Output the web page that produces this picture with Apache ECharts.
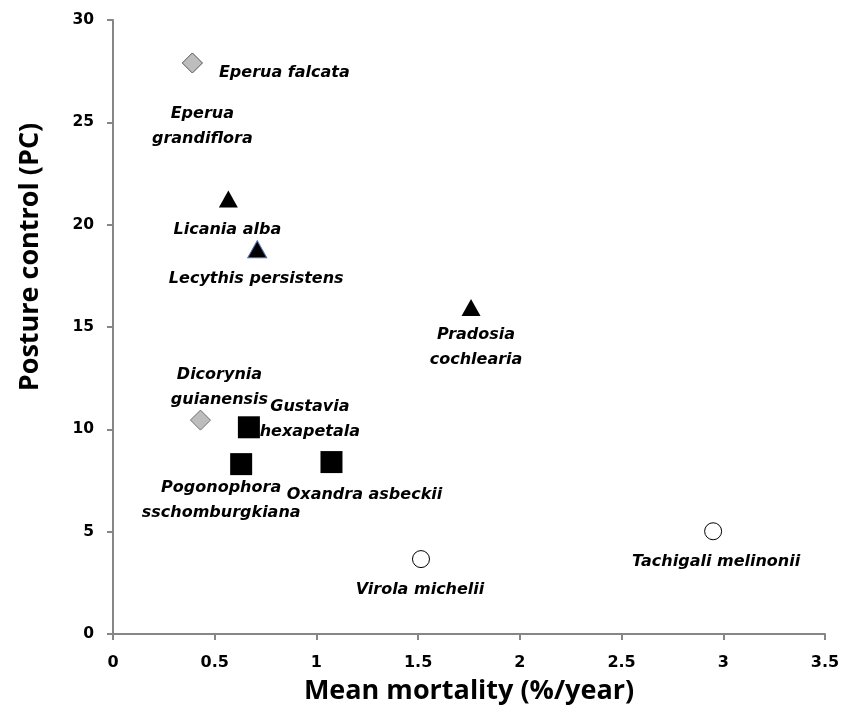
<!DOCTYPE html>
<html>
<head>
<meta charset="utf-8">
<script src="https://cdn.jsdelivr.net/npm/echarts@6/dist/echarts.min.js"></script>
<style>html,body{margin:0;padding:0;background:#fff}#c{width:850px;height:715px}</style>
</head>
<body>
<div id="c"></div>
<script>
// ---- data ----
const diamondNames = ['Eperua falcata', 'Eperua\ngrandiflora', 'Dicorynia\nguianensis'];
const diamondX = [0.39, 0.39, 0.43];
const diamondY = [27.9, 27.9, 10.45];

const triangleNames = ['Licania alba', 'Lecythis persistens', 'Pradosia\ncochlearia'];
const triangleX = [0.567, 0.709, 1.76];
const triangleY = [21.25, 18.8, 15.95];

const squareNames = ['Gustavia\nhexapetala', 'Pogonophora\nsschomburgkiana', 'Oxandra asbeckii'];
const squareX = [0.668, 0.63, 1.074];
const squareY = [10.1, 8.3, 8.4];

const circleNames = ['Virola michelii', 'Tachigali melinonii'];
const circleX = [1.514, 2.95];
const circleY = [3.66, 5.02];

const xTicks = [0, 0.5, 1, 1.5, 2, 2.5, 3, 3.5];
const yTicks = [0, 5, 10, 15, 20, 25, 30];

// ---- label placement (style) ----
const labelOffset = {
  'Eperua falcata': [92, 10],
  'Eperua\ngrandiflora': [10, 63],
  'Dicorynia\nguianensis': [19, -33],
  'Licania alba': [-1, 31],
  'Lecythis persistens': [-1, 30],
  'Pradosia\ncochlearia': [5, 40],
  'Gustavia\nhexapetala': [61, -8],
  'Pogonophora\nsschomburgkiana': [-20, 36],
  'Oxandra asbeckii': [33, 33],
  'Virola michelii': [-1, 31],
  'Tachigali melinonii': [3, 31]
};

const LABEL_FONT = 'DejaVu Sans';
const TITLE_FONT = 'Open Sans';
function pts(names, xs, ys) {
  return names.map((n, i) => ({
    name: n,
    value: [xs[i], ys[i]],
    label: { offset: labelOffset[n] }
  }));
}
const baseLabel = {
  show: true,
  position: 'inside',
  formatter: p => p.name,
  color: '#000',
  fontFamily: LABEL_FONT,
  fontStyle: 'italic',
  fontWeight: 'bold',
  fontSize: 16,
  lineHeight: 25,
  align: 'center',
  verticalAlign: 'middle'
};

const chart = echarts.init(document.getElementById('c'), null, { renderer: 'canvas' });
const axisLineStyle = { color: '#868686', width: 2 };
chart.setOption({
  animation: false,
  backgroundColor: '#fff',
  grid: { left: 113, right: 25, top: 20, bottom: 81, containLabel: false },
  xAxis: {
    type: 'value', min: 0, max: 3.5, interval: 0.5,
    name: 'Mean mortality (%/year)', nameLocation: 'middle', nameGap: 44,
    nameTextStyle: { fontFamily: TITLE_FONT, fontWeight: 'bold', fontSize: 27, color: '#000' },
    axisLine: { show: true, lineStyle: axisLineStyle },
    axisTick: { show: true, length: 6, lineStyle: axisLineStyle },
    splitLine: { show: false },
    axisLabel: { fontFamily: LABEL_FONT, fontWeight: 'bold', fontSize: 16, color: '#000', margin: 21,
      formatter: v => xTicks.includes(v) ? String(v) : '' }
  },
  yAxis: {
    type: 'value', min: 0, max: 30, interval: 5,
    name: 'Posture control (PC)', nameLocation: 'middle', nameGap: 69, nameRotate: 90,
    nameTextStyle: { fontFamily: TITLE_FONT, fontWeight: 'bold', fontSize: 27, color: '#000',
      padding: [0, 0, 0, 140] },
    axisLine: { show: true, lineStyle: axisLineStyle },
    axisTick: { show: true, length: 6, lineStyle: axisLineStyle },
    splitLine: { show: false },
    axisLabel: { fontFamily: LABEL_FONT, fontWeight: 'bold', fontSize: 15.5, color: '#000', margin: 19,
      formatter: v => yTicks.includes(v) ? String(v) : '' }
  },
  series: [
    { type: 'scatter', symbol: 'diamond', symbolSize: 20,
      itemStyle: { color: '#bdbdbd', borderColor: '#6f6f6f', borderWidth: 1, opacity: 1 },
      label: baseLabel, data: pts(diamondNames, diamondX, diamondY) },
    { type: 'scatter', symbol: 'triangle', symbolSize: [19, 17],
      itemStyle: { color: '#000', borderColor: '#000', borderWidth: 0, opacity: 1 },
      label: baseLabel,
      data: pts(triangleNames, triangleX, triangleY).map((d, i) => i === 1 ? Object.assign(d, { itemStyle: { borderColor: '#4a6fa5', borderWidth: 1 } }) : d) },
    { type: 'scatter', symbol: 'rect', symbolSize: 22,
      itemStyle: { color: '#000', opacity: 1 },
      label: baseLabel, data: pts(squareNames, squareX, squareY) },
    { type: 'scatter', symbol: 'circle', symbolSize: 17,
      itemStyle: { color: '#fff', borderColor: '#000', borderWidth: 1, opacity: 1 },
      label: baseLabel, data: pts(circleNames, circleX, circleY) }
  ]
});
</script>
</body>
</html>
